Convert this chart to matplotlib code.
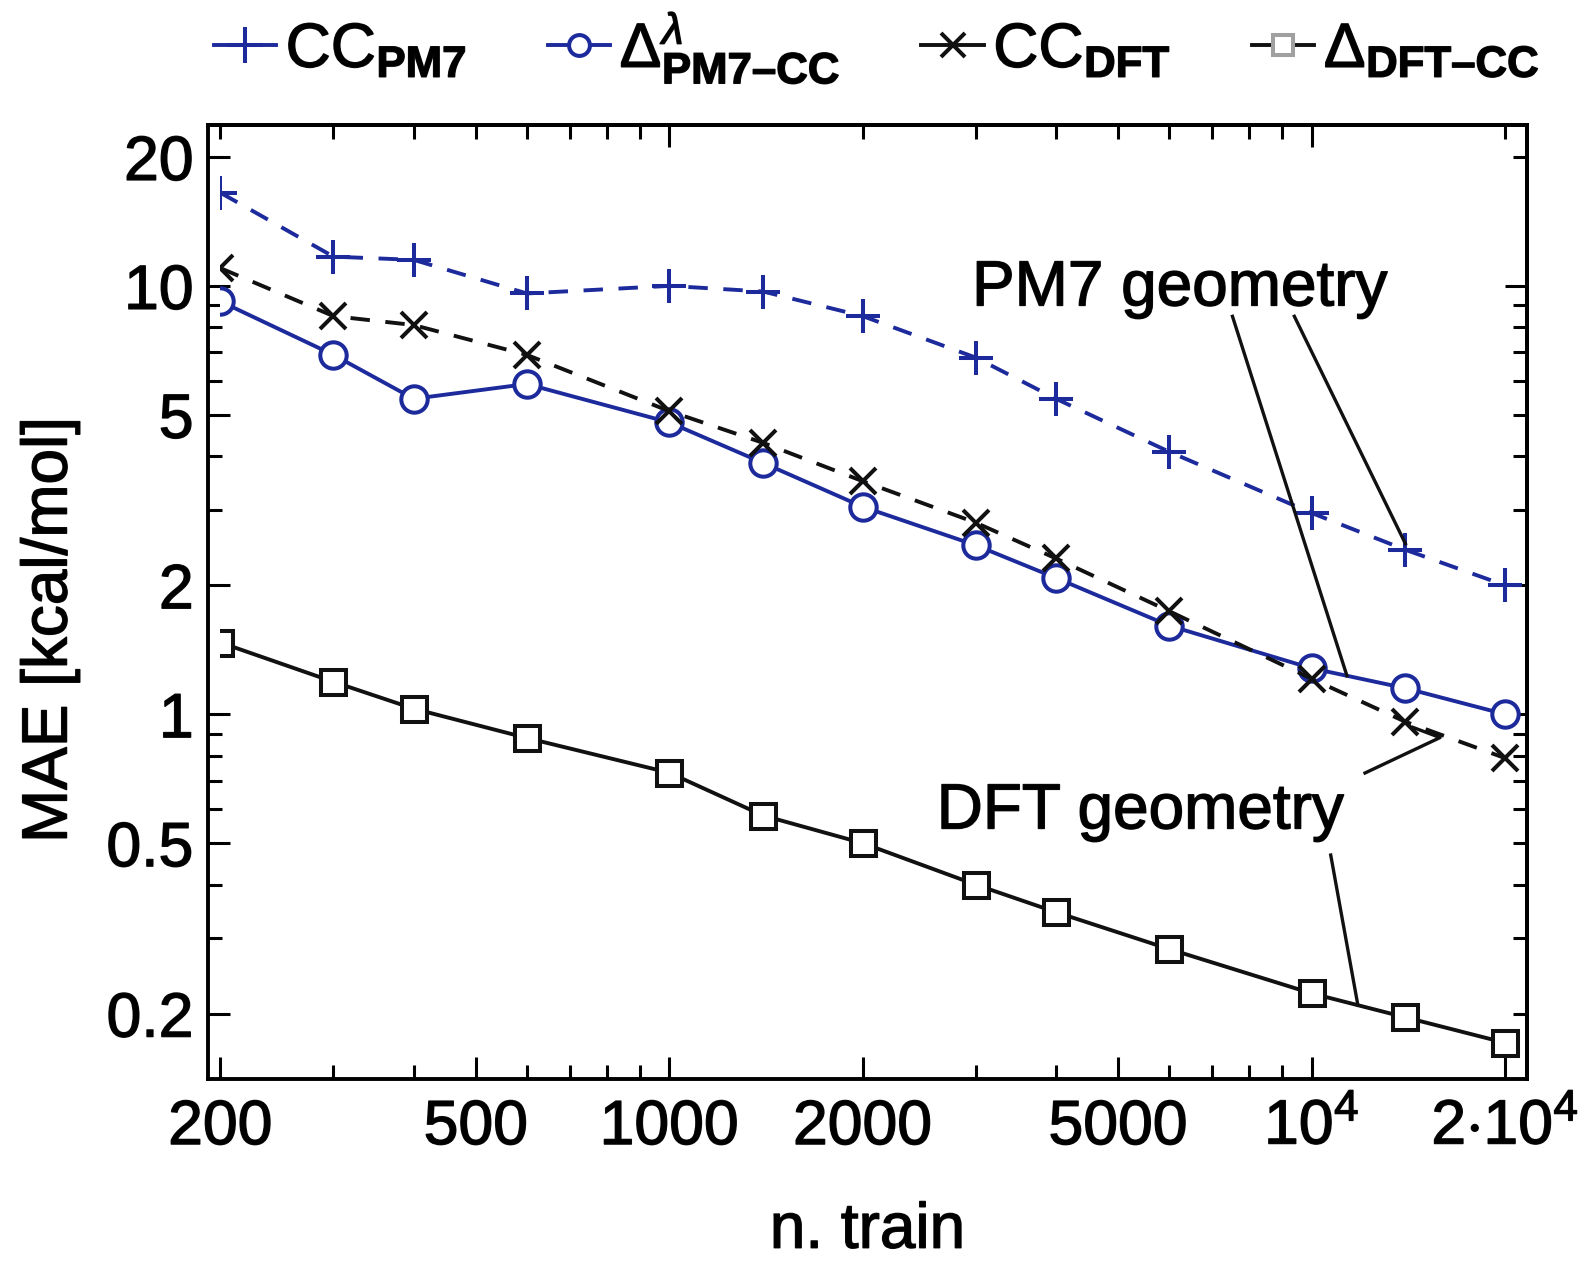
import matplotlib.pyplot as plt
import matplotlib.patheffects as pe
from matplotlib.lines import Line2D
from matplotlib.patches import Rectangle
from matplotlib.ticker import FixedLocator, NullFormatter

plt.rcParams['font.family'] = 'Liberation Sans'
plt.rcParams['mathtext.fontset'] = 'custom'
plt.rcParams['mathtext.rm'] = 'Liberation Sans'
plt.rcParams['mathtext.bf'] = 'Liberation Sans:bold'
plt.rcParams['mathtext.it'] = 'Liberation Sans:italic'
plt.rcParams['mathtext.sf'] = 'Liberation Sans'

# training set sizes
n_train = [200, 300, 400, 600, 1000, 1400, 2000, 3000, 4000, 6000, 10000, 14000, 20000]

# MAE in kcal/mol
cc_pm7 = [16.5, 11.7, 11.5, 9.6, 10.0, 9.7, 8.5, 6.8, 5.45, 4.1, 2.95, 2.42, 2.0]
delta_pm7_cc = [9.2, 6.9, 5.45, 5.9, 4.8, 3.86, 3.05, 2.48, 2.08, 1.61, 1.28, 1.15, 1.0]
cc_dft = [11.0, 8.5, 8.1, 6.9, 5.1, 4.3, 3.5, 2.8, 2.31, 1.74, 1.21, 0.96, 0.79]
delta_dft_cc = [1.47, 1.19, 1.03, 0.88, 0.73, 0.58, 0.50, 0.40, 0.345, 0.283, 0.223, 0.196, 0.171]

xticks = [200, 500, 1000, 2000, 5000, 10000, 20000]
xticklabels = ['200', '500', '1000', '2000', '5000', r'$10^4$', r'$2{\cdot}10^4$']
xminor = [300, 400, 600, 700, 800, 900, 3000, 4000, 6000, 7000, 8000, 9000]
yticks = [0.2, 0.5, 1, 2, 5, 10, 20]
yticklabels = ['0.2', '0.5', '1', '2', '5', '10', '20']
yminor = [0.3, 0.4, 0.6, 0.7, 0.8, 0.9, 3, 4, 6, 7, 8, 9]
# top / right frame ticks: long only at decades
top_major = [1000, 10000]
top_minor = [200, 300, 400, 500, 600, 700, 800, 900,
             2000, 3000, 4000, 5000, 6000, 7000, 8000, 9000, 20000]
right_major = [1, 10]
right_minor = [0.2, 0.3, 0.4, 0.5, 0.6, 0.7, 0.8, 0.9,
               2, 3, 4, 5, 6, 7, 8, 9, 20]

blue = '#1c2a9c'
black = '#111111'
thick = [pe.withStroke(linewidth=1.0, foreground=black)]

fig = plt.figure(figsize=(15.88, 12.62), dpi=100)
ax = fig.add_axes([0.1307, 0.1453, 0.831, 0.756])

ax.set_xscale('log')
ax.set_yscale('log')
xmin, xmax = 191, 21660
ymin, ymax = 0.141, 23.8
ax.set_xlim(xmin, xmax)
ax.set_ylim(ymin, ymax)

lw = 2.8
mew = 2.9
lines = []
lines += ax.plot(n_train, cc_pm7, color=blue, lw=lw, ls='--', dashes=(5, 4),
                 marker='+', ms=24, mew=mew)
lines += ax.plot(n_train, delta_pm7_cc, color=blue, lw=lw, marker='o', ms=19,
                 mfc='white', mec=blue, mew=mew)
lines += ax.plot(n_train, cc_dft, color=black, lw=lw, ls='--', dashes=(5, 4),
                 marker='x', ms=19, mew=mew)
lines += ax.plot(n_train, delta_dft_cc, color=black, lw=lw, marker='s', ms=18,
                 mfc='white', mec=black, mew=mew)

# data is clipped at n = 200, like in the original plot
clip = Rectangle((200, ymin), xmax - 200, ymax - ymin, transform=ax.transData,
                 fill=False, visible=False)
ax.add_patch(clip)
for ln in lines:
    ln.set_clip_path(clip)

# ticks
ax.xaxis.set_major_locator(FixedLocator(xticks))
ax.xaxis.set_minor_locator(FixedLocator(xminor))
ax.set_xticklabels(xticklabels)
ax.xaxis.set_minor_formatter(NullFormatter())
ax.yaxis.set_major_locator(FixedLocator(yticks))
ax.yaxis.set_minor_locator(FixedLocator(yminor))
ax.set_yticklabels(yticklabels)
ax.yaxis.set_minor_formatter(NullFormatter())
ax.tick_params(which='both', direction='in', top=False, right=False, width=2.2)
ax.tick_params(which='major', length=16)
ax.tick_params(which='minor', length=10)
ax.tick_params(axis='x', which='major', labelsize=45, pad=14)
ax.tick_params(axis='y', which='major', labelsize=45, pad=10)
for s in ax.spines.values():
    s.set_linewidth(2.8)

top = ax.secondary_xaxis('top')
top.xaxis.set_major_locator(FixedLocator(top_major))
top.xaxis.set_minor_locator(FixedLocator(top_minor))
right = ax.secondary_yaxis('right')
right.yaxis.set_major_locator(FixedLocator(right_major))
right.yaxis.set_minor_locator(FixedLocator(right_minor))
for sec in (top, right):
    sec.tick_params(which='both', direction='in', width=2.2,
                    labeltop=False, labelright=False)
    sec.tick_params(which='major', length=16)
    sec.tick_params(which='minor', length=10)
    for s in sec.spines.values():
        s.set_linewidth(2.8)

ax.set_xlabel('n. train', fontsize=46)
ax.xaxis.set_label_coords(0.5, -0.128)
ax.set_ylabel('MAE [kcal/mol]', fontsize=46)
ax.yaxis.set_label_coords(-0.097, 0.47)

# annotations
ax.text(2960, 9.0, 'PM7 geometry', fontsize=46, ha='left', va='baseline',
        path_effects=thick)
ax.plot([7530, 11350], [8.49, 1.23], color=black, lw=2.4)
ax.plot([9400, 14000], [8.49, 2.5], color=black, lw=2.4)

ax.text(2608, 0.541, 'DFT geometry', fontsize=46, ha='left', va='baseline',
        path_effects=thick)
ax.plot([12110, 15850, 14370], [0.729, 0.882, 0.932], color=black, lw=2.4)
ax.plot([10710, 11800], [0.469, 0.21], color=black, lw=2.4)

for t in ax.get_xticklabels() + ax.get_yticklabels():
    t.set_path_effects(thick)
ax.xaxis.label.set_path_effects(thick)
ax.yaxis.label.set_path_effects(thick)

# legend above the axes
handles = [
    Line2D([], [], color=blue, lw=lw, marker='+', ms=26, mew=mew),
    Line2D([], [], color=blue, lw=lw, marker='o', ms=15, mfc='white', mec=blue, mew=mew),
    Line2D([], [], color=black, lw=lw, marker='x', ms=17, mew=mew),
    Line2D([], [], color=black, lw=lw, marker='s', ms=14, mfc='white', mec='#a0a0a0', mew=mew),
]
labels = [r'CC$_{\mathbf{PM7}}$', r'$\Delta^{\lambda}_{\mathbf{PM7–CC}}$',
          r'CC$_{\mathbf{DFT}}$', r'$\Delta_{\mathbf{DFT–CC}}$']
leg = fig.legend(handles, labels, loc='center', bbox_to_anchor=(0.552, 0.962), ncol=4,
                 frameon=False, fontsize=45, handlelength=1.0, handletextpad=0.15,
                 columnspacing=1.3, borderaxespad=0)
for t in leg.get_texts():
    t.set_path_effects(thick)

fig.savefig('out.png', dpi=100)
